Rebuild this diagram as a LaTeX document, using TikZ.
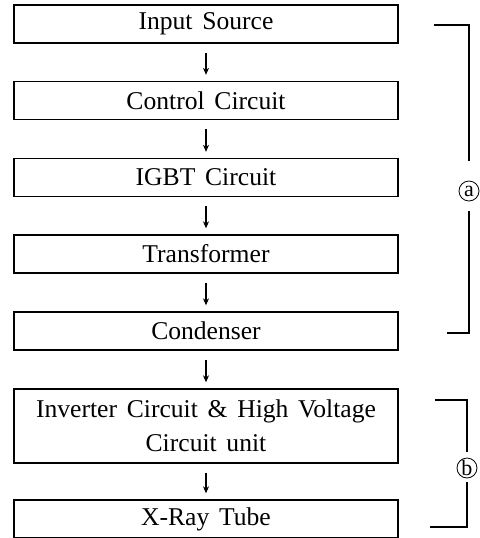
\documentclass[tikz,border=0pt]{standalone}
\usepackage{fontspec}
\setmainfont{Liberation Serif}
\usetikzlibrary{positioning, arrows.meta}
\newcommand\blockfont{\fontsize{12.8}{15}\selectfont\spaceskip 0.38em\relax}

\begin{document}
\begin{tikzpicture}[x=0.5pt, y=-0.5pt, node distance=38.25pt, on grid,
    block/.style={draw, line width=0.7pt, minimum width=192pt, minimum height=19pt,
      inner sep=0pt, align=center, font=\blockfont},
    flow/.style={-{Stealth[length=3.5pt, width=3pt]}, line width=0.55pt,
      shorten <=4.5pt, shorten >=3pt},
    tag/.style={draw, circle, line width=0.4pt, minimum size=10pt, inner sep=0pt,
      font=\fontsize{11}{11}\selectfont},
    bracket/.style={line width=0.6pt}]
  \useasboundingbox (0,0) rectangle (479,538);

  % blocks
  \node[block] (input) at (206,24) {Input Source};
  \node[block] (control) [below=of input] {Control Circuit};
  \node[block] (igbt) [below=38.5pt of control] {IGBT Circuit};
  \node[block] (trafo) [below=of igbt] {Transformer};
  \node[block] (cond) [below=38.5pt of trafo] {Condenser};
  \node[block, minimum height=37pt] (inverter) [below=47.5pt of cond]
    {Inverter Circuit \& High Voltage\\[2pt] Circuit unit};
  \node[block] (xray) [below=46.5pt of inverter] {X-Ray Tube};

  \draw[flow] (input) -- (control);
  \draw[flow] (control) -- (igbt);
  \draw[flow] (igbt) -- (trafo);
  \draw[flow] (trafo) -- (cond);
  \draw[flow] (cond) -- (inverter);
  \draw[flow] (inverter) -- (xray);

  % brackets
  \node[tag] (a) at (469,191) {a};
  \node[tag] (b) at (467,468) {b};
  \coordinate (a1) at (434,25);
  \coordinate (a2) at (447,333);
  \coordinate (b1) at (435,400);
  \coordinate (b2) at (430,527);

  \draw[bracket, shorten >=10pt] (a1) -| (a.north);
  \draw[bracket, shorten >=5pt] (a2) -| (a.south);
  \draw[bracket, shorten >=3pt] (b1) -| (b.north);
  \draw[bracket, shorten >=2pt] (b2) -| (b.south);
\end{tikzpicture}
\end{document}
